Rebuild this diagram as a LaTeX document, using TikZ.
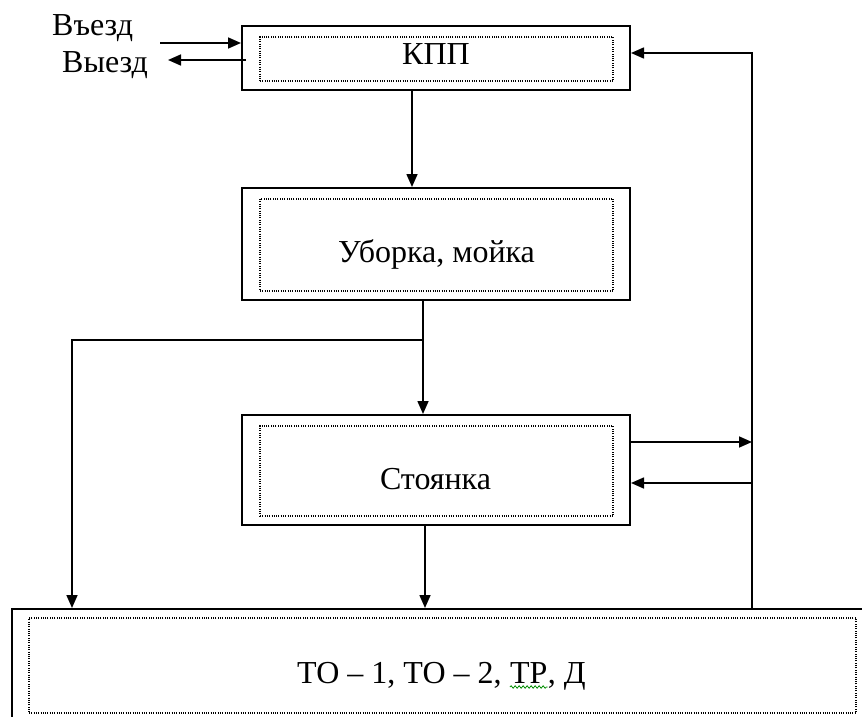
\documentclass[tikz,border=0pt]{standalone}
\usepackage{fontspec}
\setmainfont{Liberation Serif}
\usetikzlibrary{arrows.meta,decorations.pathmorphing}
\tikzset{
  outerbox/.style={draw, line width=2pt, rectangle, inner sep=0pt},
  innerbox/.style={draw, line width=1.1pt, dash pattern=on 1pt off 1.3pt, rectangle, inner sep=0pt},
  lbl/.style={inner sep=0pt, font=\fontsize{32}{38}\selectfont},
  arr/.style={line width=1.6pt, -{Triangle[length=13pt,width=11pt]}},
  ln/.style={line width=1.6pt}
}
\begin{document}
\begin{tikzpicture}[x=1pt,y=-1pt]
\useasboundingbox (0,0) rectangle (862,717);
% KPP
\node[outerbox, minimum width=388pt, minimum height=64pt] (kpp) at (436,58) {};
\node[innerbox, minimum width=353pt, minimum height=44pt] (kppin) at (436.5,59) {};
\node[lbl, anchor=base] (kppt) at (436,65) {КПП};
% Uborka
\node[outerbox, minimum width=388pt, minimum height=112pt] (ub) at (436,244) {};
\node[innerbox, minimum width=353pt, minimum height=92pt] (ubin) at (436.5,245) {};
\node[lbl, anchor=base] (ubt) at (436.5,262) {Уборка, мойка};
% Stoyanka
\node[outerbox, minimum width=388pt, minimum height=110pt] (st) at (436,470) {};
\node[innerbox, minimum width=353pt, minimum height=90pt] (stin) at (436.5,471) {};
\node[lbl, anchor=base] (stt) at (435.5,489) {Стоянка};
% Bottom
\node[outerbox, minimum width=858pt, minimum height=121pt] (bot) at (441,669.5) {};
\node[innerbox, minimum width=827pt, minimum height=95pt] (botin) at (442.5,665.5) {};
\node[lbl, anchor=base west] (b1) at (297,683) {ТО – 1, ТО – 2,\kern0.25em};
\node[lbl, anchor=base west] (b2) at (b1.base east) {ТР};
\node[lbl, anchor=base west] (b3) at (b2.base east) {, Д};
\draw[green!55!black, line width=0.8pt, decorate, decoration={snake, amplitude=1.2pt, segment length=4pt}]
  ([yshift=-4pt]b2.base west) -- ([yshift=-4pt]b2.base east);
% entry / exit
\node[lbl, anchor=base west] (vin) at (52,36) {Въезд};
\node[lbl, anchor=base west] (vout) at (62,73) {Выезд};
\coordinate (inA) at (160,43);
\coordinate (outB) at (168,60);
\draw[arr] (inA) -- (inA -| kpp.west);
\draw[arr] ([xshift=5pt]outB -| kpp.west) -- (outB);
% right return line
\coordinate (R) at (752,53);
\draw[arr] (R |- bot.north) -- (R) -- (R -| kpp.east);
\coordinate (s1) at (752,442);
\coordinate (s2) at (752,483);
\draw[arr] ([xshift=-2pt]s1 -| st.east) -- (s1);
\draw[arr] (s2) -- (s2 -| st.east);
% KPP -> Uborka
\coordinate (k1) at (412,90);
\draw[arr] (k1 |- kpp.south) -- (k1 |- ub.north);
% Uborka -> junction -> Stoyanka / bottom
\coordinate (J) at (423,340);
\coordinate (L) at (72,340);
\draw[ln] (J |- ub.south) -- (J);
\draw[arr] (J) -- (J |- st.north);
\draw[arr] (J) -- (L) -- (L |- bot.north);
% Stoyanka -> bottom
\coordinate (s3) at (425,525);
\draw[arr] (s3 |- st.south) -- (s3 |- bot.north);
\end{tikzpicture}
\end{document}
